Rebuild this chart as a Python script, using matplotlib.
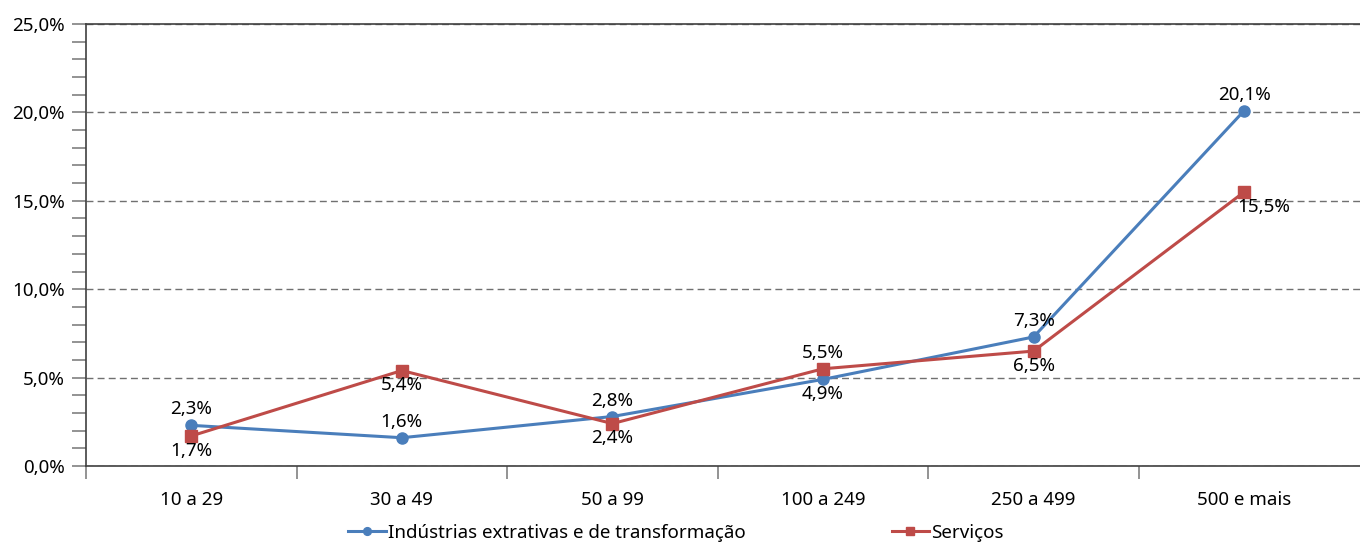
import matplotlib
matplotlib.use('Agg')
import matplotlib.pyplot as plt
from matplotlib.ticker import MultipleLocator, FixedLocator, FuncFormatter

plt.rcParams['font.family'] = ['Noto Sans', 'DejaVu Sans']

categories = ['10 a 29', '30 a 49', '50 a 99', '100 a 249', '250 a 499', '500 e mais']
industria = [2.3, 1.6, 2.8, 4.9, 7.3, 20.1]
servicos = [1.7, 5.4, 2.4, 5.5, 6.5, 15.5]
industria_label_pos = ['above', 'above', 'above', 'below', 'above', 'above']
servicos_label_pos = ['below', 'below', 'below', 'above', 'below', 'below_right']

blue = '#4a7ebb'
red = '#be4b48'
axis_color = '#404040'
tick_color = '#808080'
fs = 13.5

fig = plt.figure(figsize=(13.6, 5.42), dpi=100)
ax = fig.add_axes([0.0632, 0.1402, 0.9368, 0.8155])

x = list(range(len(categories)))
ax.plot(x, industria, color=blue, lw=2.2, marker='o', ms=8,
        label='Indústrias extrativas e de transformação', zorder=3)
ax.plot(x, servicos, color=red, lw=2.2, marker='s', ms=8,
        label='Serviços', zorder=3)


def pct(v):
    return f'{v:.1f}%'.replace('.', ',')


def add_labels(values, positions):
    for xi, v, pos in zip(x, values, positions):
        if pos == 'above':
            off, va = (0, 5), 'bottom'
        elif pos == 'below':
            off, va = (0, -4), 'top'
        else:
            off, va = (14, -4), 'top'
        ax.annotate(pct(v), (xi, v), xytext=off, textcoords='offset points',
                    ha='center', va=va, fontsize=fs, color='black')


add_labels(industria, industria_label_pos)
add_labels(servicos, servicos_label_pos)

# y axis
ax.set_ylim(0, 25)
ax.yaxis.set_major_locator(MultipleLocator(5))
ax.yaxis.set_minor_locator(MultipleLocator(1))
ax.yaxis.set_major_formatter(FuncFormatter(lambda v, p: pct(v)))
ax.tick_params(axis='y', which='both', direction='out', length=10, width=1.2,
               color=tick_color, labelsize=fs, pad=5)
ax.set_axisbelow(True)
ax.grid(axis='y', which='major', color='#707070', ls=(0, (5, 3)), lw=1)

# x axis: ticks on category boundaries, labels centred on categories
ax.set_xlim(-0.5, 5.55)
ax.xaxis.set_major_locator(FixedLocator([i - 0.5 for i in x]))
ax.xaxis.set_major_formatter(FuncFormatter(lambda v, p: ''))
ax.xaxis.set_minor_locator(FixedLocator(x))
ax.set_xticklabels(categories, minor=True)
ax.tick_params(axis='x', which='major', direction='out', length=9, width=1.2,
               color=tick_color)
ax.tick_params(axis='x', which='minor', length=0, labelsize=fs, pad=18)

for side in ['left', 'bottom', 'top']:
    ax.spines[side].set_color(axis_color)
    ax.spines[side].set_linewidth(1.2)
ax.spines['right'].set_visible(False)

handles, labels = ax.get_legend_handles_labels()
leg = fig.legend(handles, labels, loc='center', bbox_to_anchor=(0.497, 0.0165),
                 ncol=2, frameon=False, fontsize=fs, handlelength=2.0,
                 handletextpad=0.1, columnspacing=7.8, markerscale=0.7)

fig.savefig('out.png', dpi=100)
